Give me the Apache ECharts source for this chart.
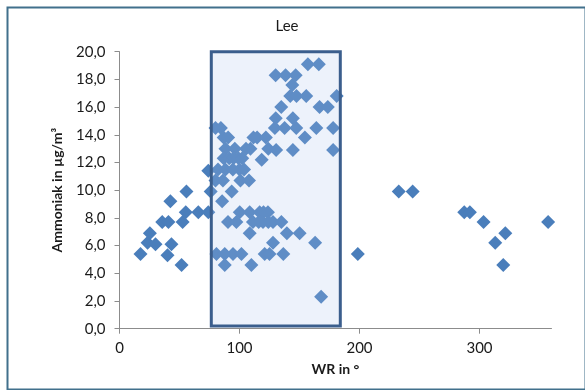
<!DOCTYPE html>
<html>
<head>
<meta charset="utf-8">
<script src="https://cdn.jsdelivr.net/npm/echarts@6/dist/echarts.min.js"></script>
<style>html,body{margin:0;padding:0;background:#fff}#c{width:585px;height:390px}</style>
</head>
<body>
<div id="c"></div>
<script>
// Wind direction (WR, degrees)
const windDir = [
  17.5, 23.4, 25.3, 30, 40, 43.3, 51.7, 35.6, 40.8, 52.6, 42.4, 55.8, 55.2, 65.7, 74, 76, 74,
  85.5, 93.5,
  80, 84.5,
  86.8, 90.5, 111.6, 114.7, 122, 154.5,
  88.3, 96.1, 105.4, 109.1, 124, 130.5, 144.5, 178,
  86.8, 91.4, 95, 99.2, 102.3, 118.5,
  82.1, 88.3, 94.5, 100, 103.8,
  80, 86.2, 100.8, 107.9,
  129.5, 137.6, 147.3, 164, 178,
  130.2, 144.5,
  134.8, 166.7, 173.6,
  142.3, 147.5, 155.6, 181,
  144,
  130.1, 138.4, 146.8,
  157, 166.1,
  100.2, 108.5, 116.8, 120, 123.7,
  90.4, 97.4, 111.2, 116, 119.6, 124, 127.9, 134.9,
  108.5, 139.5, 150.1,
  127.9, 163,
  80.8, 87.7, 94.6, 101.6, 121, 125, 136.5,
  87.7, 109.9,
  168,
  198.6, 232.7, 244.3, 287.3, 292, 303.4, 357.2, 321.5, 313.1, 319.8
];
// Ammonia concentration (µg/m³)
const ammonia = [
  5.4, 6.2, 6.9, 6.1, 5.3, 6.1, 4.6, 7.7, 7.7, 7.7, 9.2, 9.9, 8.4, 8.4, 8.4, 9.9, 11.4,
  9.2, 9.9,
  14.5, 14.5,
  13.8, 13.8, 13.8, 13.8, 13.8, 13.8,
  13.0, 13.0, 13.0, 13.0, 13.0, 12.9, 12.9, 12.9,
  12.3, 12.3, 12.3, 12.3, 12.3, 12.2,
  11.5, 11.5, 11.5, 11.5, 11.5,
  10.7, 10.7, 10.7, 10.7,
  14.5, 14.5, 14.5, 14.5, 14.5,
  15.2, 15.2,
  16.0, 16.0, 16.0,
  16.8, 16.8, 16.8, 16.8,
  17.6,
  18.3, 18.3, 18.3,
  19.1, 19.1,
  8.4, 8.4, 8.4, 8.4, 8.4,
  7.7, 7.7, 7.7, 7.7, 7.7, 7.7, 7.7, 7.7,
  6.9, 6.9, 6.9,
  6.2, 6.2,
  5.4, 5.4, 5.4, 5.4, 5.4, 5.4, 5.4,
  4.6, 4.6,
  2.3,
  5.4, 9.9, 9.9, 8.4, 8.4, 7.7, 7.7, 6.9, 6.2, 4.6
];
// Highlighted sector (lee): WR range and concentration range
const leeRangeX = [76.5, 184];
const leeRangeY = [0.2, 20];
const xTicks = [0, 100, 200, 300];

const points = windDir.map((x, i) => [x, ammonia[i]]);
const font = 'Lato, "Open Sans", sans-serif';

const chart = echarts.init(document.getElementById('c'), null, {renderer: 'canvas'});
chart.setOption({
  animation: false,
  backgroundColor: '#fff',
  title: {
    text: 'Lee', left: 282, top: 14, textAlign: 'center',
    textStyle: {fontFamily: font, fontSize: 15, fontWeight: 'normal', color: '#1a1a1a'}
  },
  grid: {left: 119.5, right: 33.5, top: 51.7, bottom: 61.3, containLabel: false},
  xAxis: {
    type: 'value', min: 0, max: 360, interval: 100,
    name: 'WR in °', nameLocation: 'middle', nameGap: 34,
    nameTextStyle: {fontFamily: font, fontSize: 14, fontWeight: 'bold', color: '#1a1a1a'},
    axisLine: {show: true, lineStyle: {color: '#8c8c8c', width: 1}},
    axisTick: {show: true, length: 5, customValues: xTicks, lineStyle: {color: '#8c8c8c'}},
    axisLabel: {customValues: xTicks, margin: 12, fontFamily: font, fontSize: 15, color: '#1a1a1a'},
    splitLine: {show: false}
  },
  yAxis: {
    type: 'value', min: 0, max: 20, interval: 2,
    name: 'Ammoniak in µg/m³', nameLocation: 'middle', nameGap: 55, nameRotate: 90,
    nameTextStyle: {fontFamily: font, fontSize: 14, fontWeight: 'bold', color: '#1a1a1a'},
    axisLine: {show: true, lineStyle: {color: '#8c8c8c', width: 1}},
    axisTick: {show: true, length: 5, inside: false, lineStyle: {color: '#8c8c8c'}},
    axisLabel: {margin: 14, fontFamily: font, fontSize: 15, color: '#1a1a1a',
      formatter: v => v.toFixed(1).replace('.', ',')},
    splitLine: {show: false}
  },
  series: [{
    type: 'scatter',
    symbol: 'diamond',
    symbolSize: 14,
    itemStyle: {color: '#4a7ebb', opacity: 1},
    data: points,
    markArea: {
      z: 3,
      silent: true,
      itemStyle: {color: 'rgba(175,198,235,0.22)', borderColor: '#3b5e8d', borderWidth: 3},
      data: [[{coord: [leeRangeX[0], leeRangeY[0]]}, {coord: [leeRangeX[1], leeRangeY[1]]}]]
    }
  }],
  graphic: [{
    type: 'rect', left: 5, top: 5, silent: true,
    shape: {width: 578, height: 382},
    style: {fill: 'none', stroke: '#41708c', lineWidth: 2}
  }]
});
</script>
</body>
</html>
